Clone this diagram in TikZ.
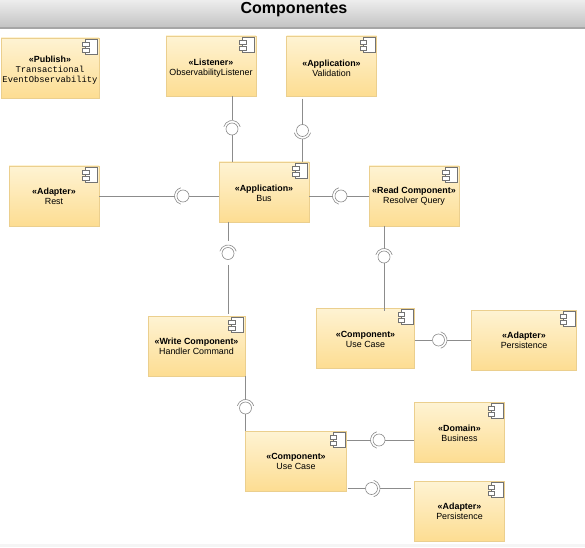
\documentclass[tikz,border=0pt]{standalone}
\usepackage{fontspec}
\setmainfont{Liberation Sans}
\setmonofont{Liberation Mono}
\definecolor{boxtop}{HTML}{FEF3D3}
\definecolor{boxbottom}{HTML}{FDDD92}
\definecolor{boxline}{HTML}{EBCF8E}
\definecolor{wireline}{HTML}{8C8C8C}
\newcommand{\padtop}[1]{\rule{0pt}{#1pt}}
\newcommand{\iface}[3]{%
    \node[ball] (#1) at (#2) {};
    \coordinate (#1s) at ([shift={(#3:8.5pt)}]#1.center);
    \draw[wire, line width=.6pt] ([shift={(#3-75:8.5pt)}]#1.center) arc[start angle=#3-75, end angle=#3+75, radius=8.5pt];
}
\begin{document}
\begin{tikzpicture} [
        x=1pt, y=1pt,
        compbox/.style={draw=boxline, rectangle, top color=boxtop, bottom color=boxbottom, align=center,
            font=\fontsize{8.9}{10}\selectfont, inner sep=0pt, minimum height=60pt},
        ball/.style={draw=wireline, line width=.6pt, circle, fill=white, minimum size=12pt, inner sep=0pt},
        wire/.style={draw=wireline, line width=.9pt},
        lug/.style={draw=black!55, line width=.7pt, fill=white} ]
    \useasboundingbox (0,0) rectangle (585,547);
    \shade[top color=black!7, bottom color=black!24] (0,519) rectangle (585,547);
    \fill[black!35] (0,518) rectangle (585,519.5);
    \fill[black!4] (0,0) rectangle (585,3);
    \node[font=\fontsize{16}{18}\selectfont\bfseries] (title) at (294,537.5) {Componentes};

    \node[compbox, minimum width=98pt] (publish) at (50,479) {\padtop{11}\textbf{«Publish»}\\\fontsize{8.8}{10}\selectfont\ttfamily Transactional\\\fontsize{8.8}{10}\selectfont\ttfamily EventObservability};
    \node[compbox, minimum width=90pt] (listener) at (211,481) {\padtop{11}\textbf{«Listener»}\\ObservabilityListener};
    \node[compbox, minimum width=90pt] (validation) at (331.5,481) {\padtop{11}\textbf{«Application»}\\Validation};
    \node[compbox, minimum width=90pt] (rest) at (54,351) {\textbf{«Adapter»}\\Rest};
    \node[compbox, minimum width=90pt] (bus) at (264,355) {\padtop{9}\textbf{«Application»}\\Bus};
    \node[compbox, minimum width=90pt] (resolver) at (414,351) {\textbf{«Read Component»}\\Resolver Query};
    \node[compbox, minimum width=97pt] (handler) at (196.5,201) {\textbf{«Write Component»}\\Handler Command};
    \node[compbox, minimum width=98pt] (usecasea) at (365.5,209) {\padtop{9}\textbf{«Component»}\\Use Case};
    \node[compbox, minimum width=105pt] (persista) at (524,207) {\textbf{«Adapter»}\\Persistence};
    \node[compbox, minimum width=101pt] (usecaseb) at (296,86) {\textbf{«Component»}\\Use Case};
    \node[compbox, minimum width=90pt] (business) at (459.5,115) {\padtop{9}\textbf{«Domain»}\\Business};
    \node[compbox, minimum width=90pt] (persistb) at (459.5,36) {\textbf{«Adapter»}\\Persistence};

    \foreach \n in {publish,listener,validation,rest,bus,resolver,handler,usecasea,persista,usecaseb,business,persistb} {
        \draw[lug] ([shift={(-13.5,-2)}]\n.north east) rectangle ([shift={(-1.5,-17)}]\n.north east);
        \draw[lug] ([shift={(-16.5,-5)}]\n.north east) rectangle ([shift={(-10,-9)}]\n.north east);
        \draw[lug] ([shift={(-16.5,-10.7)}]\n.north east) rectangle ([shift={(-10,-14.7)}]\n.north east);
    }

    \iface{i1}{232,418}{90}
    \iface{i2}{302.5,416.5}{270}
    \iface{i3}{183,351}{180}
    \iface{i4}{341,351}{180}
    \iface{i5}{384,290}{90}
    \iface{i6}{228,293.5}{90}
    \iface{i7}{245.5,139}{90}
    \iface{i8}{379,107}{180}
    \iface{i9}{371.5,58.5}{0}
    \iface{i10}{438.5,207}{0}

    \draw[wire] (listener.south -| i1) -- (i1s);
    \draw[wire] (i1) -- (bus.north -| i1);
    \draw[wire] ([yshift=-2.5]validation.south -| i2) -- (i2);
    \draw[wire] (i2s) -- (bus.north -| i2);
    \draw[wire] (rest.east |- i3) -- (i3s);
    \draw[wire] (i3) -- (bus.west |- i3);
    \draw[wire] (bus.east |- i4) -- (i4s);
    \draw[wire] (i4) -- (resolver.west |- i4);
    \draw[wire] (resolver.south -| i5) -- (i5s);
    \draw[wire] (i5) -- ([yshift=-3]usecasea.north -| i5);
    \draw[wire] (bus.south -| i6) -- ([yshift=4]i6s);
    \draw[wire] ([yshift=-5]i6.south) -- ([yshift=2]handler.north -| i6);
    \draw[wire] (handler.south -| i7) -- (i7s);
    \draw[wire] (i7) -- (usecaseb.north -| i7);
    \draw[wire] (usecaseb.east |- i8) -- (i8s);
    \draw[wire] (i8) -- (business.west |- i8);
    \draw[wire] ([xshift=1]usecaseb.east |- i9) -- (i9);
    \draw[wire] (i9s) -- ([xshift=-3]persistb.west |- i9);
    \draw[wire] (usecasea.east |- i10) -- (i10);
    \draw[wire] (i10s) -- (persista.west |- i10);
    \end{tikzpicture}
\end{document}
